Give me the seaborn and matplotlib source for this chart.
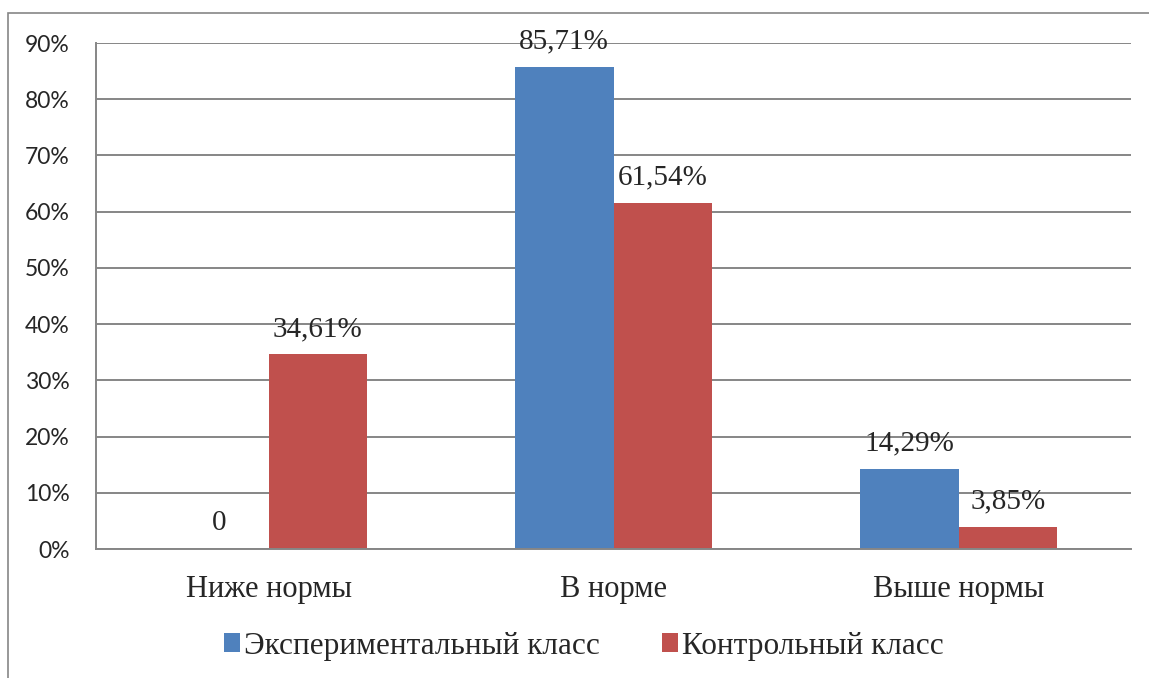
import matplotlib
matplotlib.use("Agg")
import matplotlib.pyplot as plt
from matplotlib.patches import Rectangle, Patch
import seaborn as sns
import pandas as pd

categories = ["Ниже нормы", "В норме", "Выше нормы"]
series_names = ["Экспериментальный класс", "Контрольный класс"]
experimental = [0.0, 85.71, 14.29]
control = [34.61, 61.54, 3.85]
exp_labels = ["0", "85,71%", "14,29%"]
ctl_labels = ["34,61%", "61,54%", "3,85%"]
y_ticks = [0, 10, 20, 30, 40, 50, 60, 70, 80, 90]

colors = ["#4F81BD", "#C0504D"]
grid_color = "#868686"

df = pd.DataFrame({
    "Категория": categories * 2,
    "Класс": [series_names[0]] * 3 + [series_names[1]] * 3,
    "Значение": experimental + control,
})

sns.set_style("white")
plt.rcParams["font.family"] = ["Liberation Serif", "DejaVu Serif"]

fig = plt.figure(figsize=(11.49, 6.78), dpi=100)
ax = fig.add_axes([96 / 1149, 129 / 678, 1035 / 1149, 506 / 678])

sns.barplot(data=df, x="Категория", y="Значение", hue="Класс",
            order=categories, hue_order=series_names,
            palette=colors, width=0.571, saturation=1, ax=ax,
            legend=False, edgecolor="none")

ax.set_ylim(0, 90)
ax.set_xlim(-0.5, 2.5)
ax.set_yticks(y_ticks)
ax.set_yticklabels([f"{v}%" for v in y_ticks], family="Lato", fontsize=16.5)
ax.yaxis.grid(True, color=grid_color, linewidth=1.4)
ax.set_axisbelow(True)
ax.set_xlabel("")
ax.set_ylabel("")

# category separators on the x axis
ax.set_xticks([-0.5, 0.5, 1.5, 2.5], minor=True)
ax.tick_params(axis="x", which="minor", length=6, width=1.4, color=grid_color, direction="out")
ax.tick_params(axis="x", which="major", length=0, pad=19, labelsize=22)
ax.tick_params(axis="y", length=6, width=1.4, color=grid_color, direction="out", pad=13)

for side in ["top", "right"]:
    ax.spines[side].set_visible(False)
for side in ["left", "bottom"]:
    ax.spines[side].set_color(grid_color)
    ax.spines[side].set_linewidth(1.4)

# value labels above the bars
bar_w = 0.571 / 2
for i in range(len(categories)):
    for j, (vals, labs) in enumerate([(experimental, exp_labels), (control, ctl_labels)]):
        xc = i + (j - 0.5) * bar_w
        ax.annotate(labs[i], (xc, vals[i]), xytext=(0, 9), textcoords="offset points",
                    ha="center", va="bottom", fontsize=21, annotation_clip=False)

handles = [Patch(facecolor=c, edgecolor="none") for c in colors]
fig.legend(handles, series_names, loc="center", bbox_to_anchor=(0.508, 0.047),
           ncol=2, frameon=False, fontsize=22.5, handlelength=0.52, handleheight=0.52,
           handletextpad=0.12, columnspacing=2.0, borderpad=0, borderaxespad=0)

# outer chart frame
fig.patches.append(Rectangle((8 / 1149, -0.1), 1.2, (678 - 13) / 678 + 0.1,
                             transform=fig.transFigure, fill=False,
                             edgecolor=grid_color, linewidth=1.2))

fig.savefig("out.png", dpi=100)
